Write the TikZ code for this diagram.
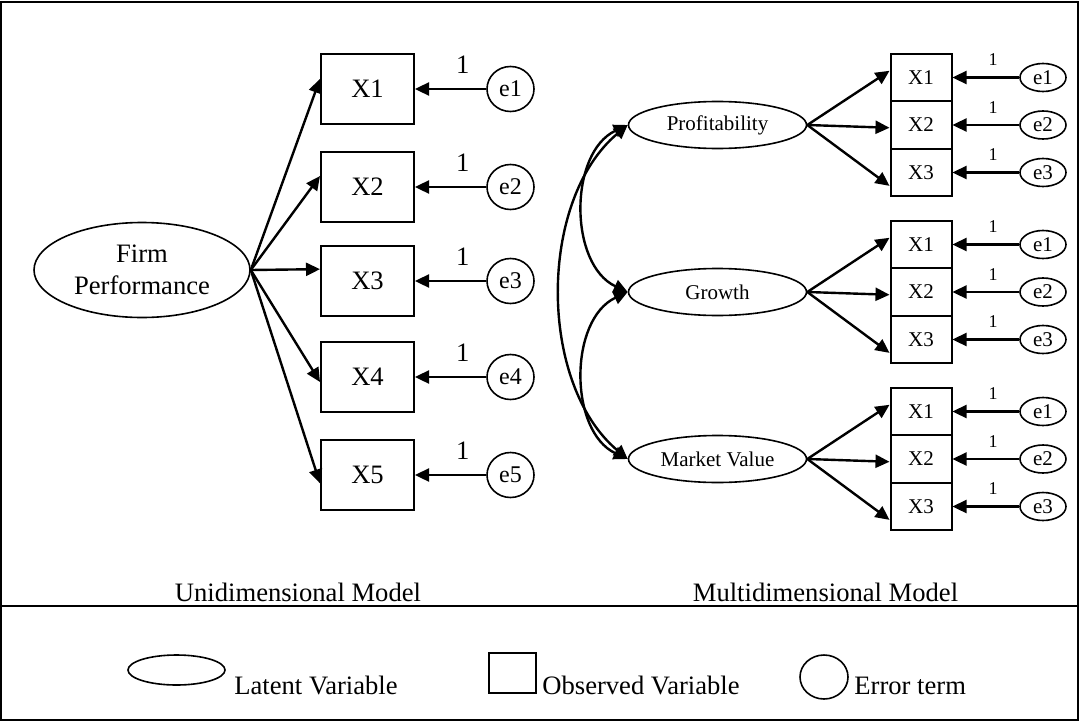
\documentclass[tikz,border=0pt]{standalone}
\usepackage{fontspec}
\setmainfont{Liberation Serif}
\usetikzlibrary{shapes.geometric,arrows.meta}
\newcommand{\sizeL}{\fontsize{13.3}{16}\selectfont}
\newcommand{\sizeM}{\fontsize{12}{14}\selectfont}
\newcommand{\sizeS}{\fontsize{10.5}{12}\selectfont}
\newcommand{\sizeXS}{\fontsize{9}{11}\selectfont}
\tikzset{
  latent/.style={draw,ellipse,line width=0.8pt,inner sep=0pt},
  obs/.style={draw,rectangle,line width=1pt,inner sep=0pt},
  err/.style={draw,ellipse,line width=0.8pt,inner sep=0pt},
  load/.style={-{Triangle[length=7pt,width=6.5pt]},line width=1.2pt},
  corr/.style={{Triangle[length=7pt,width=6.5pt]}-{Triangle[length=7pt,width=6.5pt]},line width=1.2pt}
}
\begin{document}
\begin{tikzpicture}[x=0.5pt,y=0.5pt]
\useasboundingbox (0,0) rectangle (1080,-722);
% frame
\draw[line width=0.8pt] (1,-2) rectangle (1078,-720);
\draw[line width=1pt] (1,-606) -- (1078,-606);
% unidimensional model
\node[latent,minimum width=108pt,minimum height=47.5pt,align=center,font=\sizeL] (fp) at (142,-270) {Firm\\Performance};
\foreach \i/\y/\a in {1/89/168,2/187/167,3/281/166,4/377/186,5/475/190} {
  \node[obs,minimum width=46.5pt,minimum height=35pt,font=\sizeL] (x\i) at (367.5,-\y) {X\i};
  \node[err,minimum width=23.5pt,minimum height=22.5pt,font=\sizeM] (e\i) at (510.5,-\y) {e\i};
  \draw[load] (e\i) -- (x\i) node[pos=0.33,above=4pt,font=\sizeL] {1};
  \draw[load] (fp.east) -- (x\i.\a);
}
\node[font=\sizeL,anchor=base] (unititle) at (298,-601) {Unidimensional Model};
% multidimensional model
\foreach \g/\lab/\y in {p/Profitability/125,g/Growth/292,m/Market Value/459} {
  \node[latent,minimum width=89pt,minimum height=23.5pt,font=\sizeS] (\g) at (717.5,-\y) {\lab};
  \foreach \k/\dy/\a in {1/47.5/168,2/0/185,3/-47.5/203} {
    \node[obs,minimum width=30.5pt,minimum height=23.75pt,font=\sizeS] (\g x\k) at (921,-\y+\dy) {X\k};
    \node[err,minimum width=23pt,minimum height=14pt,font=\sizeS] (\g e\k) at (1043,-\y+\dy) {e\k};
    \draw[load] (\g e\k) -- (\g x\k) node[pos=0.39,above=2pt,font=\sizeXS] {1};
    \draw[load] (\g.east) -- (\g x\k.\a);
  }
}
\draw[corr] (p.west) to[out=205,in=155] (g.west);
\draw[corr] (g.west) to[out=205,in=155] (m.west);
\draw[corr] (p.west) to[out=220,in=140,looseness=0.9] (m.west);
\node[font=\sizeL,anchor=base] (multititle) at (825.5,-601) {Multidimensional Model};
% legend
\node[latent,minimum width=48.5pt,minimum height=15pt] (leglat) at (176.5,-670) {};
\node[font=\sizeL,anchor=base west,inner sep=0pt] (leglattxt) at (234,-694) {Latent Variable};
\node[obs,line width=0.8pt,minimum width=23.5pt,minimum height=20pt] (legobs) at (512.5,-673) {};
\node[font=\sizeL,anchor=base west,inner sep=0pt] (legobstxt) at (542,-694) {Observed Variable};
\node[err,minimum width=24pt,minimum height=22pt] (legerr) at (824,-677) {};
\node[font=\sizeL,anchor=base west,inner sep=0pt] (legerrtxt) at (854,-694) {Error term};
\end{tikzpicture}
\end{document}
